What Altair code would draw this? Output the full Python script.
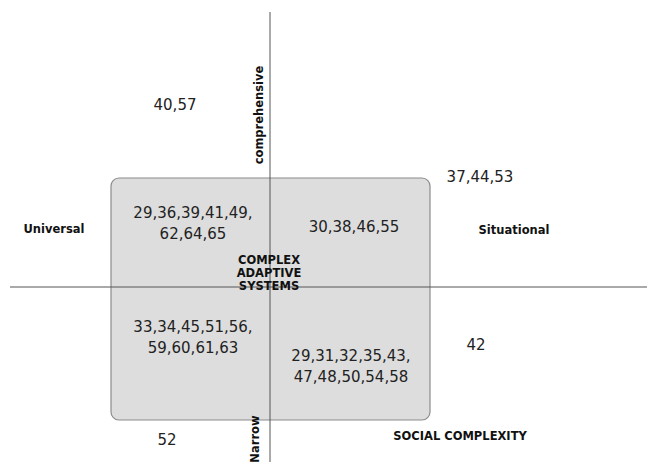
import altair as alt
import pandas as pd

# Numbered groups placed on the two conceptual axes (x: universal -> situational,
# y: narrow -> comprehensive), origin at the crossing of the axes.
num_text = ["40,57", "37,44,53", "29,36,39,41,49,\n62,64,65", "30,38,46,55",
            "33,34,45,51,56,\n59,60,61,63", "29,31,32,35,43,\n47,48,50,54,58",
            "52", "42"]
num_x = [-0.95, 2.10, -0.77, 0.84, -0.77, 0.81, -1.03, 2.06]
num_y = [1.82, 1.10, 0.74, 0.60, -0.40, -0.69, -1.53, -0.58]

lab_text = ["Universal", "Situational", "SOCIAL COMPLEXITY", "COMPLEX\nADAPTIVE\nSYSTEMS"]
lab_x = [-2.16, 2.44, 1.90, -0.01]
lab_y = [0.57, 0.56, -1.50, 0.26]

rot_text = ["comprehensive", "Narrow"]
rot_x = [-0.10, -0.14]
rot_y = [1.72, -1.52]

# axis lines and the complex-adaptive-systems region
line_x = [-2.60, 0.0]
line_x2 = [3.77, 0.0]
line_y = [0.0, 2.75]
line_y2 = [0.0, -1.75]

box_x, box_x2 = [-1.59], [1.60]
box_y, box_y2 = [1.09], [-1.33]

xs = alt.Scale(domain=[-2.62, 3.77], nice=False, zero=False)
ys = alt.Scale(domain=[-1.75, 2.79], nice=False, zero=False)

box = alt.Chart(pd.DataFrame({"x": box_x, "x2": box_x2, "y": box_y, "y2": box_y2})).mark_rect(
    cornerRadius=8, fill="#dddddd", stroke="#8c8c8c", strokeWidth=1.2
).encode(
    x=alt.X("x:Q", scale=xs, axis=None), x2="x2:Q",
    y=alt.Y("y:Q", scale=ys, axis=None), y2="y2:Q",
)

lines = alt.Chart(pd.DataFrame({"x": line_x, "x2": line_x2, "y": line_y, "y2": line_y2})).mark_rule(
    color="#555555", strokeWidth=1
).encode(
    x=alt.X("x:Q", scale=xs, axis=None), x2="x2:Q",
    y=alt.Y("y:Q", scale=ys, axis=None), y2="y2:Q",
)

nums = alt.Chart(pd.DataFrame({"t": num_text, "x": num_x, "y": num_y})).mark_text(
    font="DejaVu Sans", fontSize=15, color="#222222", lineBreak="\n", lineHeight=21,
    align="center", baseline="middle"
).encode(
    x=alt.X("x:Q", scale=xs, axis=None),
    y=alt.Y("y:Q", scale=ys, axis=None),
    text="t:N",
)

labs = alt.Chart(pd.DataFrame({"t": lab_text, "x": lab_x, "y": lab_y})).mark_text(
    font="DejaVu Sans", fontSize=11.5, fontWeight="bold", color="#111111", lineBreak="\n",
    lineHeight=13, align="center", baseline="middle"
).encode(
    x=alt.X("x:Q", scale=xs, axis=None),
    y=alt.Y("y:Q", scale=ys, axis=None),
    text="t:N",
)

rots = alt.Chart(pd.DataFrame({"t": rot_text, "x": rot_x, "y": rot_y})).mark_text(
    font="DejaVu Sans", fontSize=11.5, fontWeight="bold", color="#111111", angle=270,
    align="center", baseline="middle"
).encode(
    x=alt.X("x:Q", scale=xs, axis=None),
    y=alt.Y("y:Q", scale=ys, axis=None),
    text="t:N",
)

chart = alt.layer(box, lines, nums, labs, rots).properties(
    width=639, height=454, padding=0, background="white",
    autosize=alt.AutoSizeParams(type="none")
).configure_view(stroke=None, strokeWidth=0)

chart.save("out.html", embed_options={"renderer": "svg", "actions": False})
